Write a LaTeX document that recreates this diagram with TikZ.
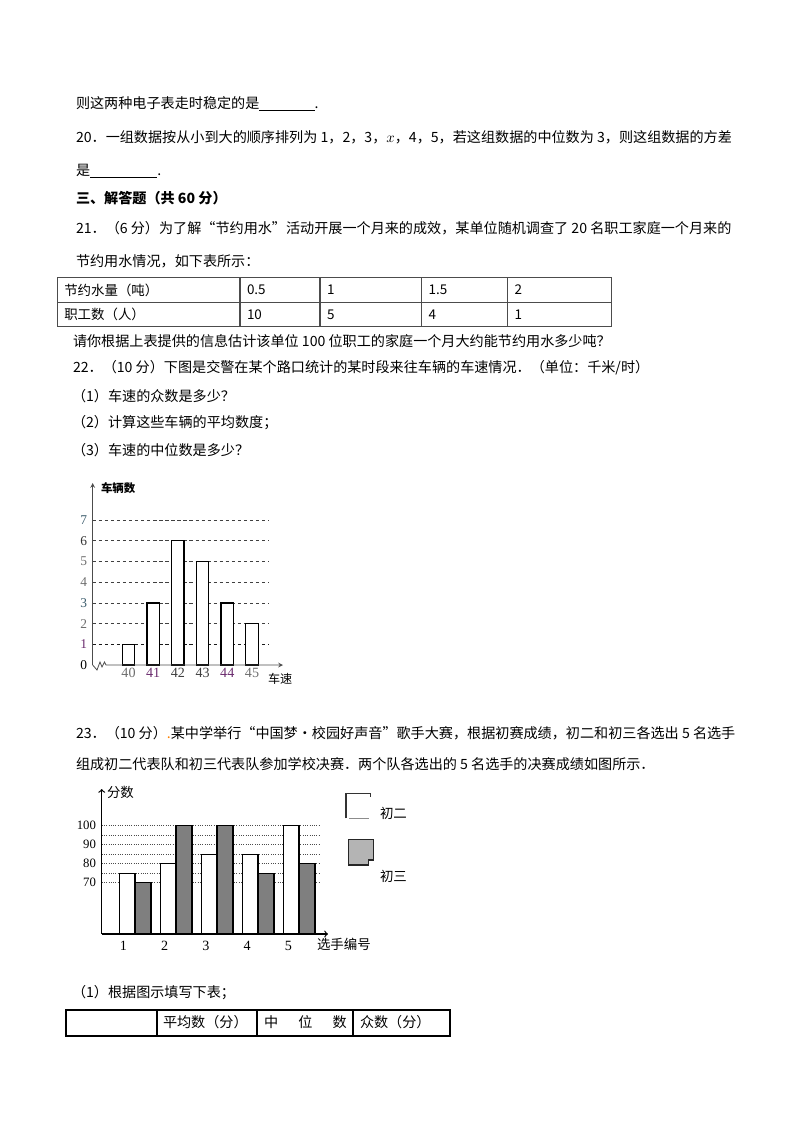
\documentclass[tikz,border=0pt]{standalone}
\usepackage{fontspec}
\setmainfont{Liberation Serif}
\newfontfamily\cjk{Noto Sans CJK SC}
\definecolor{labgray}{HTML}{6E6E6E}
\definecolor{labpurple}{HTML}{6B2C6E}
\definecolor{labteal}{HTML}{3E5E6E}
\definecolor{bardark}{HTML}{7F7F7F}
\definecolor{keylight}{HTML}{B4B4B4}
\begin{document}
\begin{tikzpicture}[x=0.7441pt,y=-0.7441pt,inner sep=0pt,outer sep=0pt,
txt/.style={anchor=west,font=\cjk\fontsize{10.5pt}{12pt}\selectfont},
cell/.style={anchor=west,font=\cjk\fontsize{10pt}{12pt}\selectfont},
ylab/.style={anchor=east,font=\fontsize{10pt}{12pt}\selectfont},
xlab/.style={font=\fontsize{10.5pt}{12pt}\selectfont},
grida/.style={draw=black!75,line width=0.6pt,dash pattern=on 2.5pt off 2pt},
gridb/.style={draw=black!70,line width=0.7pt,densely dotted},
bar/.style={draw=black,line width=0.9pt,fill=white},
darkbar/.style={bar,fill=bardark}]
\useasboundingbox (0,0) rectangle (800,1132);
% text above the tables
\draw (76,104) node[txt] (q19) {则这两种电子表走时稳定的是\underline{\hspace{41pt}}.};
\draw (76,137) node[txt] (q20) {20．一组数据按从小到大的顺序排列为 1，2，3，$x$，4，5，若这组数据的中位数为 3，则这组数据的方差};
\draw (76,171) node[txt] (q20b) {是\underline{\hspace{50pt}}.};
\draw (76,198) node[txt,font=\cjk\bfseries\fontsize{10.5pt}{12pt}\selectfont] (sec3) {三、解答题（共 60 分）};
\draw (76,228) node[txt] (q21) {21．（6 分）为了解“节约用水”活动开展一个月来的成效，某单位随机调查了 20 名职工家庭一个月来的};
\draw (76,261) node[txt] (q21b) {节约用水情况，如下表所示：};
% table of saved water
\draw[black!70,line width=0.8pt] (57.3,277.7) rectangle (611.7,326.7);
\draw[black!70,line width=0.8pt] (57.3,302.3) -- (611.7,302.3);
\foreach \x in {240,320,421.7,507.7} \draw[black!70,line width=0.8pt] (\x,277.7) -- (\x,326.7);
\foreach \x/\a/\b [count=\i] in {57.3/节约水量（吨）/职工数（人）,240/0.5/10,320/1/5,421.7/1.5/4,507.7/2/1} {
\draw (\x+7,290) node[cell] (top\i) {\a};
\draw (\x+7,314.5) node[cell] (bot\i) {\b};
}
\draw (73,341) node[txt] (q21c) {请你根据上表提供的信息估计该单位 100 位职工的家庭一个月大约能节约用水多少吨？};
\draw (73,368) node[txt] (q22) {22．（10 分）下图是交警在某个路口统计的某时段来往车辆的车速情况．（单位：千米/时）};
\draw (72,396) node[txt] (q22a) {（1）车速的众数是多少？};
\draw (72,423) node[txt] (q22b) {（2）计算这些车辆的平均数度；};
\draw (72,450) node[txt] (q22c) {（3）车速的中位数是多少？};
% chart of car speeds
\foreach \k in {2,...,7} \draw[grida] (92.7,665-20.7*\k) -- (268.3,665-20.7*\k);
\draw[grida,draw=black!90,line width=0.9pt] (92.7,644.3) -- (268.3,644.3);
\foreach \h [count=\i from 0] in {1,3,6,5,3,2} \draw[bar] (122.3+24.7*\i,665) rectangle ++(12.4,-20.7*\h);
\draw[-stealth,black!70,line width=0.6pt] (92.7,665) -- (92.7,483);
\draw[-stealth,black!70,line width=0.6pt] (92.7,665) -- (97,670) -- (100,662) -- (102,667) -- (104.5,662) -- (106,665) -- (283,665);
\foreach \k/\c in {0/black,1/labpurple,2/labgray,3/labteal,4/labgray,5/labgray,6/black!80,7/labteal}
\draw (87,665-20.7*\k) node[ylab,text=\c] (yl\k) {\k};
\foreach \v/\c [count=\i from 0] in {40/labgray,41/labpurple,42/black!75,43/black!75,44/labpurple,45/labgray}
\draw (128.5+24.7*\i,673) node[xlab,text=\c] (xl\v) {\v};
\draw (101,488) node[anchor=west,font=\cjk\bfseries\fontsize{8.5pt}{10pt}\selectfont] (cars) {车辆数};
\draw (268,679) node[anchor=west,font=\cjk\fontsize{9pt}{11pt}\selectfont] (speed) {车速};
% text between the charts
\draw (76,733) node[txt] (q23) {23．（10 分）{\color{orange}.}某中学举行“中国梦•校园好声音”歌手大赛，根据初赛成绩，初二和初三各选出 5 名选手};
\draw (76,764) node[txt] (q23b) {组成初二代表队和初三代表队参加学校决赛．两个队各选出的 5 名选手的决赛成绩如图所示．};
% chart of scores
\foreach \v in {70,75,...,100} \draw[gridb] (101.7,1015.7-1.9*\v) -- (320,1015.7-1.9*\v);
\foreach \a/\b [count=\i from 0] in {75/70,80/100,85/100,85/75,100/80} {
\draw[bar] (119.3+41*\i,934) rectangle (135.1+41*\i,1015.7-1.9*\a);
\draw[darkbar] (135.1+41*\i,934) rectangle (150.9+41*\i,1015.7-1.9*\b);
}
\draw[->,line width=0.9pt] (101.7,934) -- (101.7,789);
\draw[->,line width=0.9pt] (101.7,934) -- (328,934);
\foreach \v in {70,80,90,100} \draw (96,1015.7-1.9*\v) node[anchor=east,font=\fontsize{9.5pt}{11pt}\selectfont] (yv\v) {\v};
\foreach \i in {1,...,5} \draw (123.3+41.3*\i-41.3,946) node[xlab] (pl\i) {\i};
\draw (107,792) node[anchor=west,font=\cjk\fontsize{10pt}{12pt}\selectfont] (score) {分数};
\draw (317,944) node[anchor=west,font=\cjk\fontsize{10pt}{12pt}\selectfont] (player) {选手编号};
% key
\draw[black!80,line width=0.9pt] (346,818.3) -- (346,793.3) -- (370.7,793.3) -- (370.7,797);
\draw[black!45,line width=0.9pt] (349.3,818.3) -- (369.3,818.3);
\draw[fill=keylight,draw=black!85,line width=0.9pt] (348.3,839.3) -- (373.3,839.3) -- (373.3,860) -- (368.3,860) -- (368.3,865) -- (348.3,865) -- cycle;
\draw (380,813.3) node[anchor=west,font=\cjk\fontsize{10pt}{12pt}\selectfont] (grade8) {初二};
\draw (380,876.7) node[anchor=west,font=\cjk\fontsize{10pt}{12pt}\selectfont] (grade9) {初三};
% table to fill in
\draw (72,993) node[txt] (q23a) {（1）根据图示填写下表；};
\draw[line width=1.3pt] (66,1010) rectangle (450,1035.7);
\foreach \x in {156.7,256.7,353.3} \draw[line width=1.3pt] (\x,1010) -- (\x,1035.7);
\draw (163,1022) node[txt] (mean) {平均数（分）};
\draw (264,1022) node[txt] (median) {中\hspace{15pt}位\hspace{15pt}数};
\draw (360,1022) node[txt] (mode) {众数（分）};
\end{tikzpicture}
\end{document}
